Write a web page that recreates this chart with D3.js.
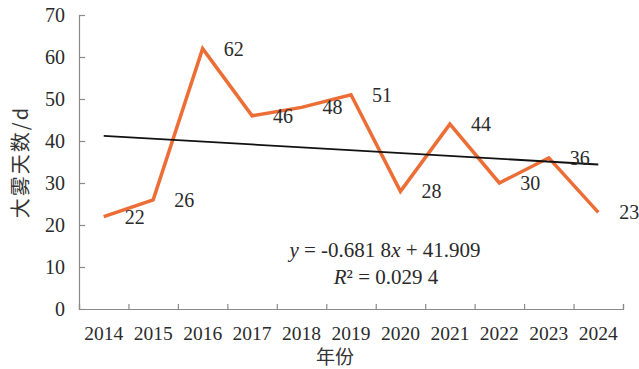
<!DOCTYPE html>
<html><head><meta charset="utf-8">
<script src="https://cdn.jsdelivr.net/npm/d3@7"></script>
<style>body{margin:0;background:#fff}svg{display:block}</style>
</head><body>
<svg id="c" width="639" height="369" font-family="Liberation Serif"></svg>
<script>
const years = ["2014","2015","2016","2017","2018","2019","2020","2021","2022","2023","2024"];
const fogDays = [22,26,62,46,48,51,28,44,30,36,23];
const yTicks = [0,10,20,30,40,50,60,70];
const trendSlope = -0.6818, trendIntercept = 41.909;
const yTitle = "大雾天数/d", xTitle = "年份";

const svg = d3.select("#c");
const L = 79, R = 623, T = 15, B = 309;
const x = d3.scaleBand().domain(years).range([L, R]);
const xEdge = d3.scaleLinear().domain([0, years.length]).range([L, R]);
const y = d3.scaleLinear().domain([0, 70]).range([B, T]);
const cx = d => x(d) + x.bandwidth()/2;
const axisColor = "#8a8a8a", textColor = "#2a2a2a";

// Y axis
const ya = svg.append("g").attr("transform", `translate(${L},0)`)
  .call(d3.axisLeft(y).tickValues(yTicks).tickSize(-6).tickPadding(14).tickFormat(d3.format("d")));
ya.attr("font-family", "Liberation Serif").attr("font-size", 20);
ya.select(".domain").attr("stroke", axisColor).attr("stroke-width", 1.2);
ya.selectAll(".tick line").attr("stroke", axisColor).attr("stroke-width", 1.2);
ya.selectAll(".tick text").attr("fill", textColor);

// X axis (ticks at band edges)
const xa = svg.append("g").attr("transform", `translate(0,${B})`)
  .call(d3.axisBottom(xEdge).tickValues(d3.range(0, years.length + 1)).tickSize(-5).tickFormat(""));
xa.select(".domain").attr("stroke", axisColor).attr("stroke-width", 1.2);
xa.selectAll(".tick line").attr("stroke", axisColor).attr("stroke-width", 1.2);
xa.selectAll(".tick text").remove();
svg.append("g").attr("font-family", "Liberation Serif").attr("font-size", 19.5)
  .selectAll("text").data(years).join("text")
  .attr("x", d => cx(d)).attr("y", 333).attr("dy", "0.35em")
  .attr("text-anchor", "middle").attr("fill", textColor).text(d => d);

// Axis titles
svg.append("text").attr("transform", "translate(21,162) rotate(-90)")
  .attr("text-anchor", "middle").attr("dy", "0.35em")
  .attr("font-family", "Noto Sans CJK SC").attr("font-size", 20).attr("letter-spacing", 2)
  .attr("fill", "#333").text(yTitle);
svg.append("text").attr("x", 335).attr("y", 357).attr("dy", "0.35em")
  .attr("text-anchor", "middle").attr("font-family", "Noto Sans CJK SC").attr("font-size", 19)
  .attr("fill", "#333").text(xTitle);

// Data line
const line = d3.line().x((d, i) => cx(years[i])).y(d => y(d));
svg.append("path").datum(fogDays).attr("d", line)
  .attr("fill", "none").attr("stroke", "#ec6e36").attr("stroke-width", 3.5)
  .attr("stroke-linejoin", "miter");

// Trend line
const trend = [1, years.length].map(i => ({ i, v: trendSlope * i + trendIntercept }));
svg.append("path").datum(trend)
  .attr("d", d3.line().x(d => cx(years[d.i - 1])).y(d => y(d.v)))
  .attr("stroke", "#111").attr("stroke-width", 1.8).attr("fill", "none");

// Data labels
svg.append("g").attr("font-family", "Liberation Serif").attr("font-size", 20)
  .selectAll("text").data(fogDays).join("text")
  .attr("x", (d, i) => cx(years[i]) + 31).attr("y", d => y(d)).attr("dy", "0.35em")
  .attr("text-anchor", "middle").attr("fill", textColor).text(d => d);

// Equation
const eq = svg.append("text").attr("x", 385).attr("y", 250).attr("dy", "0.35em")
  .attr("text-anchor", "middle").attr("font-family", "Liberation Serif").attr("font-size", 21).attr("fill", textColor);
eq.append("tspan").attr("font-style", "italic").text("y");
eq.append("tspan").text(" = -0.681 8");
eq.append("tspan").attr("font-style", "italic").text("x");
eq.append("tspan").text(" + 41.909");
const r2 = svg.append("text").attr("x", 386).attr("y", 277).attr("dy", "0.35em")
  .attr("text-anchor", "middle").attr("font-family", "Liberation Serif").attr("font-size", 21).attr("fill", textColor);
r2.append("tspan").attr("font-style", "italic").text("R");
r2.append("tspan").text("² = 0.029 4");
</script>
</body></html>
